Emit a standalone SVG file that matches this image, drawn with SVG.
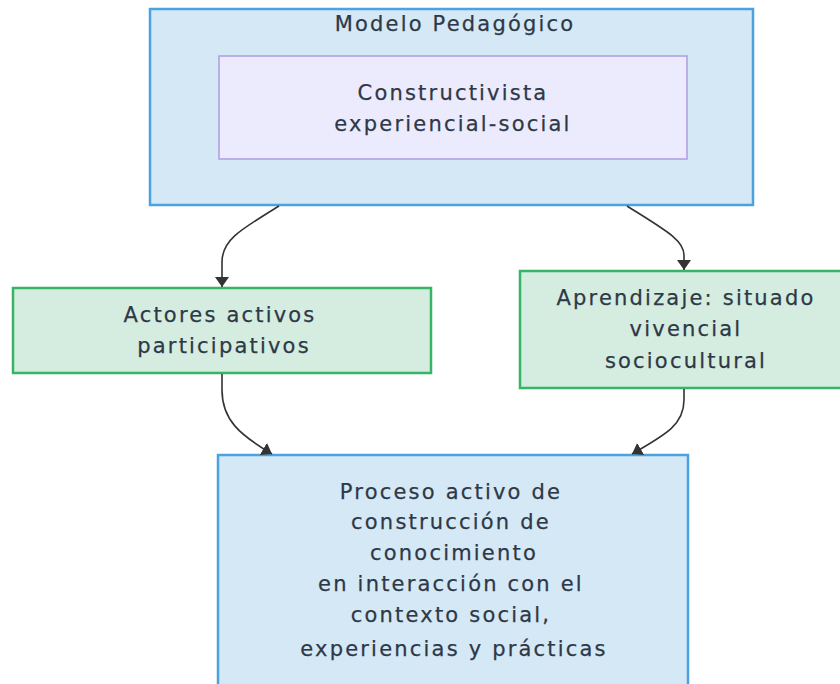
<svg xmlns="http://www.w3.org/2000/svg" width="840" height="684" viewBox="0 0 840 684">
<style>
.t{font-family:"DejaVu Sans",Verdana,sans-serif;font-size:21px;letter-spacing:2.2px;fill:#2e3846;stroke:#2e3846;stroke-width:0.25;text-anchor:middle}
.blue{fill:#d5e8f6;stroke:#4aa2e0;stroke-width:2.5}
.green{fill:#d4ede0;stroke:#35b565;stroke-width:2.5}
.purple{fill:#ebebfd;stroke:#b09be0;stroke-width:1.5}
.e{fill:none;stroke:#333;stroke-width:1.6}
</style>
<defs>
<marker id="ah" viewBox="0 0 10 14" refX="10" refY="7" markerWidth="10" markerHeight="14" markerUnits="userSpaceOnUse" orient="auto"><path d="M0,0 L10,7 L0,14 z" fill="#333"/></marker>
</defs>
<rect width="840" height="684" fill="#fff"/>
<g id="modelo">
<rect class="blue" x="150" y="9" width="603" height="196"/>
<text class="t" x="455" y="31">Modelo Pedagógico</text>
</g>
<g id="constructivista">
<rect class="purple" x="219" y="56" width="468" height="103"/>
<text class="t" x="453" y="100">Constructivista</text>
<text class="t" x="453" y="131">experiencial-social</text>
</g>
<g id="actores">
<rect class="green" x="13" y="288" width="418" height="85"/>
<text class="t" x="220" y="322">Actores activos</text>
<text class="t" x="224" y="353">participativos</text>
</g>
<g id="aprendizaje">
<rect class="green" x="520" y="271" width="324" height="117"/>
<text class="t" x="686" y="305">Aprendizaje: situado</text>
<text class="t" x="686" y="336">vivencial</text>
<text class="t" x="686" y="368">sociocultural</text>
</g>
<g id="proceso">
<rect class="blue" x="218" y="455" width="470" height="240"/>
<text class="t" x="451" y="499">Proceso activo de</text>
<text class="t" x="451" y="529">construcción de</text>
<text class="t" x="454" y="560">conocimiento</text>
<text class="t" x="451" y="591">en interacción con el</text>
<text class="t" x="451" y="622">contexto social,</text>
<text class="t" x="454" y="656">experiencias y prácticas</text>
</g>
<g id="connectors">
<path class="e" d="M279,206 C240,230 222,240 222,262 L222,287" marker-end="url(#ah)"/>
<path class="e" d="M627,206 C665,230 684,240 684,255 L684,270" marker-end="url(#ah)"/>
<path class="e" d="M222,374 L222,390 C222,420 240,435 272,454" marker-end="url(#ah)"/>
<path class="e" d="M684,389 L684,400 C684,425 665,435 632,454" marker-end="url(#ah)"/>
</g>
</svg>
